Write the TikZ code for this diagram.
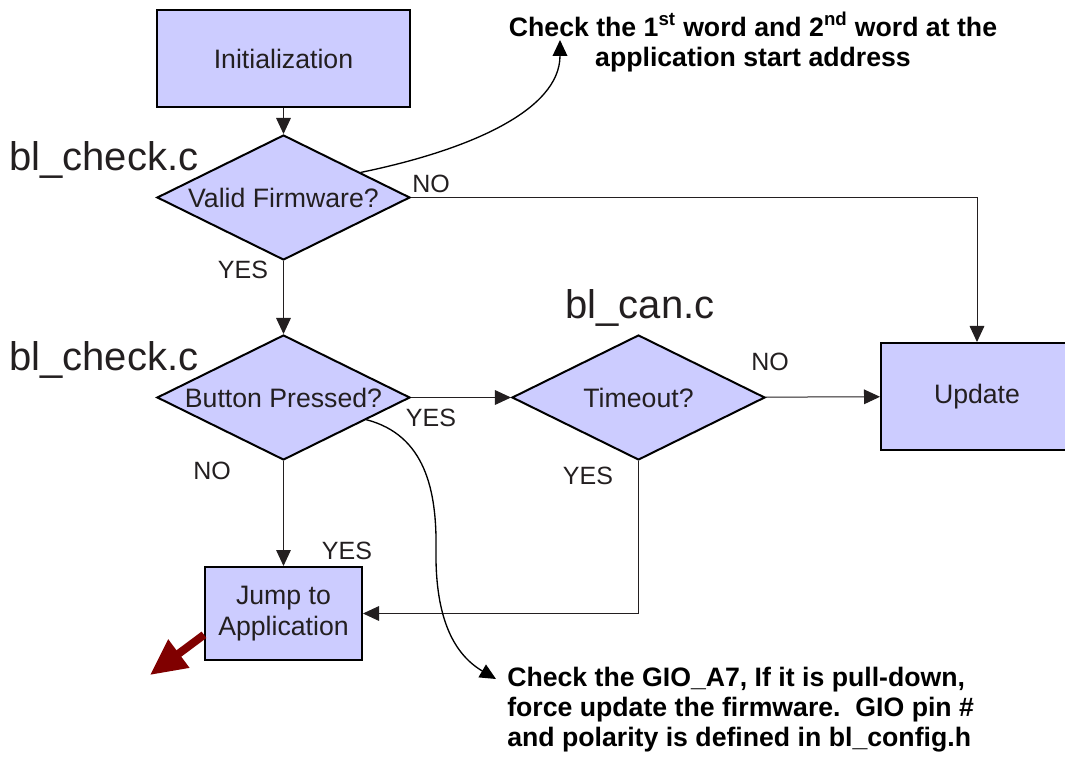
\documentclass[tikz,border=0pt]{standalone}
\usepackage{fontspec}
\setmainfont{Liberation Sans}
\usetikzlibrary{shapes.geometric,arrows.meta}
\definecolor{boxfill}{RGB}{204,204,255}
\definecolor{inkgray}{RGB}{35,31,32}
\definecolor{jumpred}{RGB}{128,0,0}

\begin{document}
\begin{tikzpicture}[x=0.75pt,y=0.75pt,yscale=-1,xscale=1,
  procbox/.style={draw=black,line width=1.5pt,fill=boxfill,text=inkgray,inner sep=0pt,align=center,font=\fontsize{20}{23}\selectfont},
  decide/.style={draw=black,line width=1.5pt,fill=boxfill,text=inkgray,shape=diamond,shape aspect=2,inner sep=0pt,minimum width=189.75pt,minimum height=93.75pt,font=\fontsize{20}{23}\selectfont},
  flow/.style={draw=inkgray,line width=0.75pt,-{Triangle[length=12pt,width=11pt]}},
  curvy/.style={draw=black,line width=1pt,-{Triangle[length=12pt,width=11pt]}},
  branch/.style={text=inkgray,inner sep=0.75pt,font=\fontsize{18.75}{22}\selectfont},
  srcfile/.style={text=inkgray,inner sep=0.75pt,font=\fontsize{30}{36}\selectfont},
  remark/.style={text=black,inner sep=0.75pt,font=\bfseries\fontsize{20}{22.5}\selectfont},
]
\useasboundingbox (0,0) rectangle (1065,759);

%Shape: Rectangle
\draw (283.5,58.5) node [procbox,minimum width=189.75pt,minimum height=72.75pt] (init) {Initialization};
%Shape: Diamond
\draw (283.5,197.5) node [decide] (vfw) {Valid Firmware?};
%Shape: Diamond
\draw (283.5,397.5) node [decide] (button) {Button Pressed?};
%Shape: Diamond
\draw (638.5,397.5) node [decide] (timeout) {Timeout?};
%Shape: Rectangle
\draw (977,396.5) node [procbox,minimum width=144pt,minimum height=80.25pt] (update) {Update};
%Shape: Rectangle
\draw (283.5,613.5) node [procbox,minimum width=117.75pt,minimum height=69.75pt] (jump) {Jump to\\Application};

%Free ends
\coordinate (note1tip) at (560,40);
\coordinate (note2tip) at (496,679);
\coordinate (jexit) at (150,675);

%Straight Lines
\draw [flow] (init) -- (vfw);
\draw [flow] (vfw) -- (button);
\draw [flow] (vfw.east) -| (update.north);
\draw [flow] (button) -- (timeout);
\draw [flow] (timeout) -- (update);
\draw [flow] (button) -- (jump);
\draw [flow] (timeout.south) |- (jump.east);
\draw [jumpred,line width=6pt,-{Triangle[length=27pt,width=25pt]}] (jump.195) -- (jexit);

%Curve Lines
\draw [curvy] (vfw.18) .. controls (470,150) and (560,110) .. (note1tip);
\draw [curvy] (button.-15) .. controls (425,435) and (437,490) .. (436,550) .. controls (435,620) and (455,655) .. (note2tip);

% Text Node
\draw (8,160) node [srcfile,anchor=west] (chk1) {bl\_check.c};
% Text Node
\draw (8,360) node [srcfile,anchor=west] (chk2) {bl\_check.c};
% Text Node
\draw (640,308) node [srcfile] (can) {bl\_can.c};
% Text Node
\draw (431,184) node [branch] (no1) {NO};
% Text Node
\draw (243,270) node [branch] (yes1) {YES};
% Text Node
\draw (431,418) node [branch] (yes2) {YES};
% Text Node
\draw (770,362) node [branch] (no2) {NO};
% Text Node
\draw (588,476) node [branch] (yes3) {YES};
% Text Node
\draw (212,471) node [branch] (no3) {NO};
% Text Node
\draw (347,551) node [branch] (yes4) {YES};
% Text Node
\draw (753,42) node [remark,align=center] (note1) {Check the 1\textsuperscript{st} word and 2\textsuperscript{nd} word at the\\application start address};
% Text Node
\draw (506,710) node [remark,anchor=west,align=left] (note2) {Check the GIO\_A7, If it is pull-down,\\force update the firmware.\ \ GIO pin \#\\and polarity is defined in bl\_config.h};

\end{tikzpicture}
\end{document}
